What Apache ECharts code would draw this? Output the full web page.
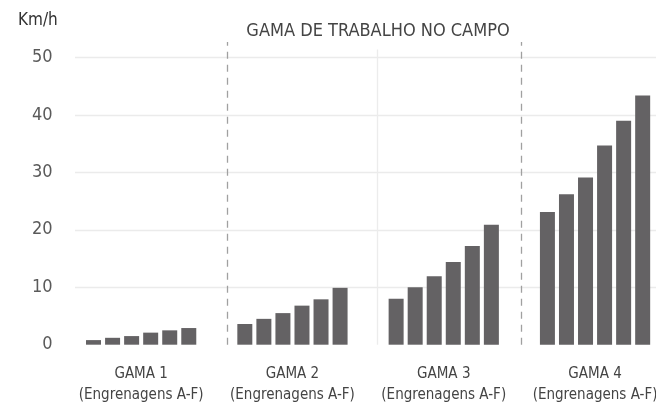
<!DOCTYPE html>
<html>
<head>
<meta charset="utf-8">
<script src="https://cdn.jsdelivr.net/npm/echarts@6/dist/echarts.min.js"></script>
<style>
  html, body { margin: 0; padding: 0; background: #fff; }
  #chart { width: 656px; height: 404px; }
</style>
</head>
<body>
<div id="chart"></div>
<script>
// categorias (gamas) e velocidades por engrenagem A-F
var gamas = ['GAMA 1', 'GAMA 2', 'GAMA 3', 'GAMA 4'];
var subLabel = '(Engrenagens A-F)';
var gears = ['A', 'B', 'C', 'D', 'E', 'F'];
var gama1 = [0.8, 1.2, 1.5, 2.1, 2.5, 2.9];
var gama2 = [3.6, 4.5, 5.5, 6.8, 7.9, 9.9];
var gama3 = [8.0, 10.0, 11.9, 14.4, 17.2, 20.9];
var gama4 = [23.1, 26.2, 29.1, 34.7, 39.0, 43.4];
var yTicks = [0, 10, 20, 30, 40, 50];
// separadores entre gamas (posição no eixo 0..4)
var dashedSep = [1.07, 3.01];
var solidSep = [2.06];

var FONT = '"Liberation Sans Narrow", "DejaVu Sans Condensed", Roboto, sans-serif';
var chart = echarts.init(document.getElementById('chart'));

var byGama = [gama1, gama2, gama3, gama4];
var series = gears.map(function (g, j) {
  return {
    name: g,
    type: 'bar',
    xAxisIndex: 0,
    yAxisIndex: 0,
    barWidth: 15,
    barGap: '27%',
    itemStyle: { color: '#646264' },
    data: byGama.map(function (arr) { return arr[j]; })
  };
});

// linhas verticais (tracejadas e sólida)
var sepLines = [];
dashedSep.forEach(function (x) {
  sepLines.push([{ coord: [x, 0], lineStyle: { type: [7, 6], color: '#a0a0a0', width: 1.3 } }, { coord: [x, 1] }]);
});
solidSep.forEach(function (x) {
  sepLines.push([{ coord: [x, 0], lineStyle: { type: 'solid', color: '#ececec', width: 1.3 } }, { coord: [x, 0.975] }]);
});
series.push({
  type: 'line',
  xAxisIndex: 2,
  yAxisIndex: 2,
  data: [],
  silent: true,
  markLine: {
    silent: true,
    symbol: 'none',
    label: { show: false },
    data: sepLines
  }
});

var option = {
  animation: false,
  textStyle: { fontFamily: FONT },
  graphic: [
    { type: 'text', left: 18, top: 12, style: { text: 'Km/h', font: '17px ' + FONT, fill: '#333' } },
    { type: 'text', x: 378, y: 31, style: { text: 'GAMA DE TRABALHO NO CAMPO', font: '18px ' + FONT, fill: '#444', align: 'center', verticalAlign: 'middle' } }
  ],
  grid: [
    { left: 65.5, width: 605.2, top: 57.5, bottom: 59.3, outerBoundsMode: 'none' },
    { left: 75, right: 0, top: 57.5, bottom: 59.3, outerBoundsMode: 'none' },
    { left: 65.5, width: 605.2, top: 42, bottom: 59.3, outerBoundsMode: 'none' }
  ],
  xAxis: [
    {
      type: 'category', gridIndex: 0, data: gamas,
      axisLine: { show: false }, axisTick: { show: false },
      axisLabel: {
        interval: 0, margin: 19, fontSize: 15, lineHeight: 21, color: '#444', fontFamily: FONT,
        formatter: function (v) { return v + '\n' + subLabel; }
      }
    },
    { type: 'value', gridIndex: 1, show: false, min: 0, max: 1 },
    { type: 'value', gridIndex: 2, show: false, min: 0, max: 4 }
  ],
  yAxis: [
    {
      type: 'value', gridIndex: 0, min: 0, max: 50, interval: 10,
      axisLine: { show: false }, axisTick: { show: false },
      splitLine: { show: false },
      axisLabel: { margin: 13, fontSize: 18, color: '#5a5a5a', fontFamily: FONT }
    },
    {
      type: 'value', gridIndex: 1, min: 0, max: 50, interval: 10,
      axisLine: { show: false }, axisTick: { show: false }, axisLabel: { show: false },
      splitLine: { show: true, lineStyle: { color: ['rgba(0,0,0,0)', '#ebebeb', '#ebebeb', '#ebebeb', '#ebebeb', '#ebebeb'], width: 1.3 } }
    },
    { type: 'value', gridIndex: 2, show: false, min: 0, max: 1 }
  ],
  series: series
};
chart.setOption(option);
</script>
</body>
</html>
